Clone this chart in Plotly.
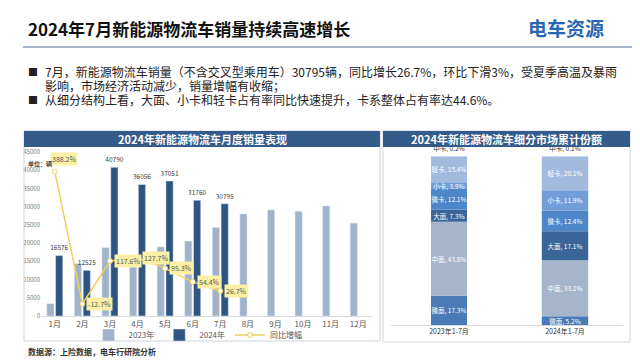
import plotly.graph_objects as go
import numpy as np

# ---------------- data ----------------
months = ["1月", "2月", "3月", "4月", "5月", "6月", "7月", "8月", "9月", "10月", "11月", "12月"]
sales_2023 = [3395, 14347, 18745, 15835, 18971, 20570, 24305, 28000, 29100, 28750, 30200, 25500]
sales_2024 = [16576, 12525, 40790, 36056, 37051, 31760, 30795]
yoy_growth = [388.2, -12.7, 117.6, 127.7, 95.3, 54.4, 26.7]

share_periods = ["2023年1-7月", "2024年1-7月"]
segments = ["微面", "中面", "大面", "微卡", "小卡", "轻卡", "中卡"]
share_2023 = [17.3, 43.8, 7.3, 12.1, 3.9, 15.4, 0.2]
share_2024 = [5.2, 33.1, 17.1, 12.4, 11.9, 20.1, 0.1]

title_text = "2024年7月新能源物流车销量持续高速增长"
bullet_lines = [
    ("■", "7月，新能源物流车销量（不含交叉型乘用车）30795辆，同比增长26.7%，环比下滑3%，受夏季高温及暴雨"),
    ("", "影响，市场经济活动减少，销量增幅有收缩；"),
    ("■", "从细分结构上看，大面、小卡和轻卡占有率同比快速提升，卡系整体占有率达44.6%。"),
]
left_header = "2024年新能源物流车月度销量表现"
right_header = "2024年新能源物流车细分市场累计份额"
source_text = "数据源：上险数据，电车行研院分析"

W, H = 640, 360
FONT = "Noto Sans CJK SC"


def px(x):
    return x / W


def py(y):
    return 1 - y / H


C23 = "#a0b3cb"
C24 = "#2f5683"
CLINE = "#f0cf5c"
seg_colors = ["#4a7bb6", "#a5b5cb", "#3a6598", "#4d86c9", "#729ed8", "#a3badf", "#c5d4ec"]

fig = go.Figure()

# ---------------- left chart ----------------
fig.add_trace(go.Bar(
    x=months, y=sales_2023, name="2023年", marker_color=C23,
    xaxis="x", yaxis="y", hoverinfo="skip"))
fig.add_trace(go.Bar(
    x=months[:len(sales_2024)], y=sales_2024, name="2024年", marker_color=C24,
    text=[str(v) for v in sales_2024], textposition="outside", textangle=0,
    textfont=dict(size=9, color="#404040", family=FONT), cliponaxis=False,
    xaxis="x", yaxis="y", hoverinfo="skip"))
fig.add_trace(go.Scatter(
    x=months[:len(yoy_growth)], y=yoy_growth, name="同比增幅", mode="lines+markers",
    line=dict(color=CLINE, width=1.5),
    marker=dict(size=5, color="white", line=dict(color=CLINE, width=1)),
    xaxis="x", yaxis="y2", hoverinfo="skip", cliponaxis=False))

annotations = []
for i, (m, g) in enumerate(zip(months, yoy_growth)):
    if i == 0:
        annotations.append(dict(x=m, y=g, xref="x", yref="y2", text=f"{g}%", showarrow=False,
                                xanchor="left", yanchor="bottom", xshift=-5, yshift=6,
                                font=dict(size=7, color="#555", family=FONT),
                                bgcolor="#fbf0a6", borderpad=1))
    else:
        annotations.append(dict(x=m, y=g, xref="x", yref="y2", text=f"{g}%", showarrow=False,
                                xanchor="left", yanchor="middle", xshift=4,
                                font=dict(size=7, color="#555", family=FONT),
                                bgcolor="#fbf0a6", borderpad=1))

# ---------------- right chart ----------------
shares = np.array([share_2023, share_2024])
bases = np.cumsum(shares, axis=1) - shares
widths = [0.31, 0.40]
for j, seg in enumerate(segments):
    vals = shares[:, j]
    top = (j == len(segments) - 1)
    fig.add_trace(go.Bar(
        x=share_periods, y=vals, base=bases[:, j], width=widths,
        offset=[-w / 2 for w in widths],
        marker=dict(color=seg_colors[j], line=dict(width=0)),
        text=[f"{seg}, {v}%" for v in vals],
        textposition="outside" if top else "inside",
        insidetextanchor="middle", textangle=0,
        textfont=dict(size=6.5, color="#333" if top else "white", family=FONT),
        constraintext="none",
        cliponaxis=False, showlegend=False, hoverinfo="skip",
        xaxis="x3", yaxis="y3"))

# ---------------- shapes ----------------
shapes = [
    dict(type="line", xref="paper", yref="paper", x0=px(15), x1=px(632), y0=py(39), y1=py(39),
         line=dict(color="#8d9cb8", width=1.5)),
    dict(type="rect", xref="paper", yref="paper", x0=px(16), x1=px(372), y0=py(333), y1=py(123),
         line=dict(color="#cdd3dc", width=1), fillcolor="rgba(0,0,0,0)"),
    dict(type="rect", xref="paper", yref="paper", x0=px(16), x1=px(372), y0=py(139), y1=py(123),
         line=dict(width=0), fillcolor="#345c8a"),
    dict(type="rect", xref="paper", yref="paper", x0=px(375), x1=px(622), y0=py(334), y1=py(123),
         line=dict(color="#cdd3dc", width=1), fillcolor="rgba(0,0,0,0)"),
    dict(type="rect", xref="paper", yref="paper", x0=px(375), x1=px(622), y0=py(139), y1=py(123),
         line=dict(width=0), fillcolor="#345c8a"),
]

# ---------------- texts ----------------
annotations += [
    dict(x=px(18), y=py(20), xref="paper", yref="paper", text=f"<b>{title_text}</b>",
         showarrow=False, xanchor="left", yanchor="middle",
         font=dict(size=17, color="#111", family=FONT)),
    dict(x=px(558), y=py(19), xref="paper", yref="paper", text="<b>电车资源</b>",
         showarrow=False, xanchor="center", yanchor="middle",
         font=dict(size=19, color="#2767b3", family=FONT)),
    dict(x=px(194), y=py(131), xref="paper", yref="paper", text=f"<b>{left_header}</b>",
         showarrow=False, xanchor="center", yanchor="middle",
         font=dict(size=11, color="white", family=FONT)),
    dict(x=px(498), y=py(131), xref="paper", yref="paper", text=f"<b>{right_header}</b>",
         showarrow=False, xanchor="center", yanchor="middle",
         font=dict(size=11, color="white", family=FONT)),
    dict(x=px(18), y=py(155), xref="paper", yref="paper", text="<b>单位：辆</b>",
         showarrow=False, xanchor="left", yanchor="middle",
         font=dict(size=6, color="#444", family=FONT)),
    dict(x=px(18), y=py(343), xref="paper", yref="paper", text=f"<b>{source_text}</b>",
         showarrow=False, xanchor="left", yanchor="middle",
         font=dict(size=8, color="#333", family=FONT)),
]
line_y = [63, 77, 91]
for (b, t), yy in zip(bullet_lines, line_y):
    if b:
        annotations.append(dict(x=px(18), y=py(yy), xref="paper", yref="paper", text=b,
                                showarrow=False, xanchor="left", yanchor="middle",
                                font=dict(size=10, color="#222", family=FONT)))
    annotations.append(dict(x=px(35), y=py(yy), xref="paper", yref="paper", text=t,
                            showarrow=False, xanchor="left", yanchor="middle",
                            font=dict(size=12, color="#222", family=FONT)))

fig.update_layout(
    width=W, height=H,
    margin=dict(l=0, r=0, t=0, b=0, autoexpand=False),
    paper_bgcolor="white", plot_bgcolor="rgba(0,0,0,0)",
    font=dict(family=FONT),
    barmode="group", bargap=0.36, bargroupgap=0.18,
    xaxis=dict(domain=[px(33), px(364)], anchor="y", range=[-0.5, 11.5], showgrid=False,
               showline=True, linecolor="#d9d9d9", ticks="", tickfont=dict(size=8, color="#555"),
               automargin=False),
    yaxis=dict(domain=[py(308), py(144)], range=[0, 45000], dtick=5000, tickformat="d",
               showgrid=False, zeroline=False, showline=False,
               tickfont=dict(size=6, color="#777"), automargin=False),
    yaxis2=dict(overlaying="y", range=[-49.1, 447.9], visible=False, automargin=False),
    xaxis3=dict(domain=[px(383), px(615)], anchor="y3", showgrid=False, showline=True,
                linecolor="#d9d9d9", ticks="", tickfont=dict(size=7, color="#333"),
                automargin=False),
    yaxis3=dict(domain=[py(317), py(148)], range=[0, 100], visible=False, automargin=False),
    legend=dict(orientation="h", x=px(190), xanchor="center", y=py(327), yanchor="middle",
                font=dict(size=8, color="#595959", family=FONT), bgcolor="rgba(0,0,0,0)",
                itemwidth=30, tracegroupgap=0),
    uniformtext=dict(minsize=6, mode="show"),
    shapes=shapes, annotations=annotations,
)

fig.write_html("out.html")
